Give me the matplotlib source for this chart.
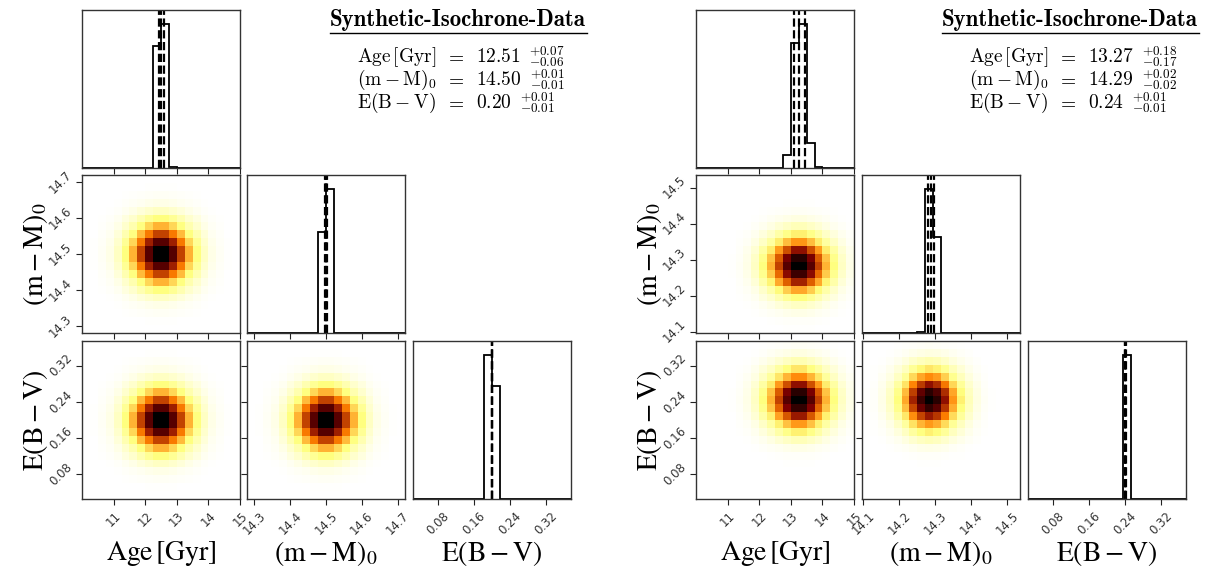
import numpy as np
import matplotlib
matplotlib.use("Agg")
import matplotlib.pyplot as plt
from matplotlib.lines import Line2D

# ---------------- data ----------------
title_text = "Synthetic-Isochrone-Data"
axis_labels = [r"$\mathrm{Age\,[Gyr]}$", r"$\mathrm{(m-M)_0}$", r"$\mathrm{E(B-V)}$"]
table_labels = [r"$\mathrm{Age\,[Gyr]}$", r"$\mathrm{(m-M)_0}$", r"$\mathrm{E(B-V)}$"]

# axis ranges (20 bins each)
age_range = (10.0, 15.0)
mm_range_L = (14.28, 14.72)
mm_range_R = (14.096, 14.535)
ebv_range = (0.025, 0.375)

# tick values / labels
age_ticks = [11, 12, 13, 14, 15]
mm_ticks_L = [14.3, 14.4, 14.5, 14.6, 14.7]
mm_ticks_R = [14.1, 14.2, 14.3, 14.4, 14.5]
ebv_ticks = [0.08, 0.16, 0.24, 0.32]

# 2D density profiles per parameter (cell weights)
age_prof_L = [0, 0.005, 0.02, 0.05, 0.12, 0.25, 0.40, 0.62, 0.83, 1.0,
              1.0, 0.83, 0.62, 0.40, 0.25, 0.12, 0.05, 0.02, 0.005, 0]
mm_prof_L = [0, 0.005, 0.02, 0.05, 0.12, 0.25, 0.40, 0.62, 0.83, 1.0,
             1.0, 0.83, 0.62, 0.40, 0.25, 0.12, 0.05, 0.02, 0.005, 0]
ebv_prof_L = [0, 0.005, 0.02, 0.05, 0.12, 0.25, 0.40, 0.62, 0.83, 1.0,
              1.0, 0.83, 0.62, 0.40, 0.25, 0.12, 0.05, 0.02, 0.005, 0]

age_prof_R = [0, 0, 0, 0, 0.005, 0.02, 0.05, 0.12, 0.25, 0.40,
              0.62, 0.83, 1.0, 1.0, 0.83, 0.62, 0.40, 0.25, 0.12, 0.05]
mm_prof_R = [0.005, 0.015, 0.05, 0.12, 0.25, 0.42, 0.68, 0.88, 1.0, 0.92,
             0.72, 0.46, 0.28, 0.14, 0.06, 0.02, 0.005, 0, 0, 0]
ebv_prof_R = [0, 0, 0, 0, 0.005, 0.015, 0.05, 0.14, 0.28, 0.45,
              0.70, 0.90, 1.0, 0.92, 0.72, 0.48, 0.30, 0.15, 0.06, 0.02]

# 1D histograms (relative counts per bin)
age_hist_L = [0]*9 + [0.85, 1.0, 0.01] + [0]*8
mm_hist_L = [0]*9 + [0.70, 1.0] + [0]*9
ebv_hist_L = [0]*9 + [1.0, 0.785] + [0]*9

age_hist_R = [0]*11 + [0.093, 0.87, 1.0, 0.175, 0.007] + [0]*4
mm_hist_R = [0]*7 + [0.006, 1.0, 0.67] + [0]*10
ebv_hist_R = [0]*12 + [1.0] + [0]*7

# quantiles (16, 50, 84)
age_q_L = [12.45, 12.51, 12.58]
mm_q_L = [14.497, 14.500, 14.503]
ebv_q_L = [0.1995, 0.2000, 0.2005]
age_q_R = [13.10, 13.27, 13.45]
mm_q_R = [14.279, 14.288, 14.297]
ebv_q_R = [0.239, 0.240, 0.241]

# summary values
vals_L = [("12.51", "+0.07", "-0.06"), ("14.50", "+0.01", "-0.01"), ("0.20", "+0.01", "-0.01")]
vals_R = [("13.27", "+0.18", "-0.17"), ("14.29", "+0.02", "-0.02"), ("0.24", "+0.01", "-0.01")]

# ---------------- figure ----------------
W, H = 1207, 575
fig = plt.figure(figsize=(W / 100, H / 100), dpi=100)
renderer = fig.canvas.get_renderer()

PW, PH = 158, 158
rows_top = [10, 175, 341]


def fig_rect(x, y):
    return [x / W, 1 - (y + PH) / H, PW / W, PH / H]


def style_ticks(ax):
    ax.tick_params(direction="out", length=4, width=0.8, labelsize=8.5,
                   labelcolor="#333333", color="#222222")
    ax.tick_params(axis="y", pad=1.5)
    for s in ax.spines.values():
        s.set_linewidth(1.0)
        s.set_color("#333333")


def draw_corner(x0s, ranges, ticks, profs, hists, quants, vals, tx):
    n = 3
    edges = [np.linspace(r[0], r[1], 21) for r in ranges]
    for i in range(n):
        for j in range(n):
            if j > i:
                continue
            ax = fig.add_axes(fig_rect(x0s[j], rows_top[i]))
            style_ticks(ax)
            if i == j:
                h = np.array(hists[i], dtype=float)
                ax.stairs(h, edges[i], color="k", lw=1.3)
                for q in quants[i]:
                    ax.axvline(q, color="k", ls="--", lw=1.6)
                ax.set_ylim(0, 1.1 * h.max())
                ax.set_yticks([])
            else:
                Z = np.outer(profs[i], profs[j])
                ax.pcolormesh(edges[j], edges[i], Z, cmap="afmhot_r",
                              vmin=0, vmax=Z.max(), shading="flat",
                              edgecolors="none", antialiased=False)
                ax.set_ylim(*ranges[i])
                ax.set_yticks(ticks[i])
                if j == 0:
                    ax.set_yticklabels([f"{t:g}" for t in ticks[i]], rotation=45,
                                       va="center")
                    ax.set_ylabel(axis_labels[i], fontsize=20, math_fontfamily="stix")
                    ax.yaxis.set_label_coords(-0.2, 0.5)
                else:
                    ax.set_yticklabels([])
            ax.set_xlim(*ranges[j])
            ax.set_xticks(ticks[j])
            if i == n - 1:
                ax.set_xticklabels([f"{t:g}" for t in ticks[j]], rotation=45,
                                   ha="center")
                ax.set_xlabel(axis_labels[j], fontsize=20, math_fontfamily="stix")
                ax.xaxis.set_label_coords(0.5, -0.25)
            else:
                ax.set_xticklabels([])

    # title block
    fig.text(tx / W, 1 - 26 / H, title_text, fontsize=16.5, family="cmb10",
             ha="left", va="baseline")
    fig.add_artist(Line2D([tx / W, (tx + 257) / W], [1 - 33 / H, 1 - 33 / H],
                          color="k", lw=1.0))
    for k in range(3):
        yb = 62 + 23 * k
        y = 1 - yb / H
        fig.text((tx + 27) / W, y, table_labels[k], fontsize=14,
                 math_fontfamily="cm", ha="left", va="baseline")
        fig.text((tx + 125) / W, y, r"$=$", fontsize=14,
                 math_fontfamily="cm", ha="center", va="baseline")
        v, up, lo = vals[k]
        t = fig.text((tx + 146) / W, y, r"$%s$" % v,
                     fontsize=14, math_fontfamily="cm", ha="left", va="baseline")
        x1 = t.get_window_extent(renderer).x1
        fig.text((x1 + 8) / W, 1 - (yb - 7) / H, r"$%s$" % up, fontsize=9.5,
                 math_fontfamily="cm", ha="left", va="baseline")
        fig.text((x1 + 8) / W, 1 - (yb + 4) / H, r"$%s$" % lo, fontsize=9.5,
                 math_fontfamily="cm", ha="left", va="baseline")


draw_corner([82, 247, 413], [age_range, mm_range_L, ebv_range],
            [age_ticks, mm_ticks_L, ebv_ticks],
            [age_prof_L, mm_prof_L, ebv_prof_L],
            [age_hist_L, mm_hist_L, ebv_hist_L],
            [age_q_L, mm_q_L, ebv_q_L], vals_L, 330)

draw_corner([696, 862, 1028], [age_range, mm_range_R, ebv_range],
            [age_ticks, mm_ticks_R, ebv_ticks],
            [age_prof_R, mm_prof_R, ebv_prof_R],
            [age_hist_R, mm_hist_R, ebv_hist_R],
            [age_q_R, mm_q_R, ebv_q_R], vals_R, 942)

fig.savefig("out.png", dpi=100)
